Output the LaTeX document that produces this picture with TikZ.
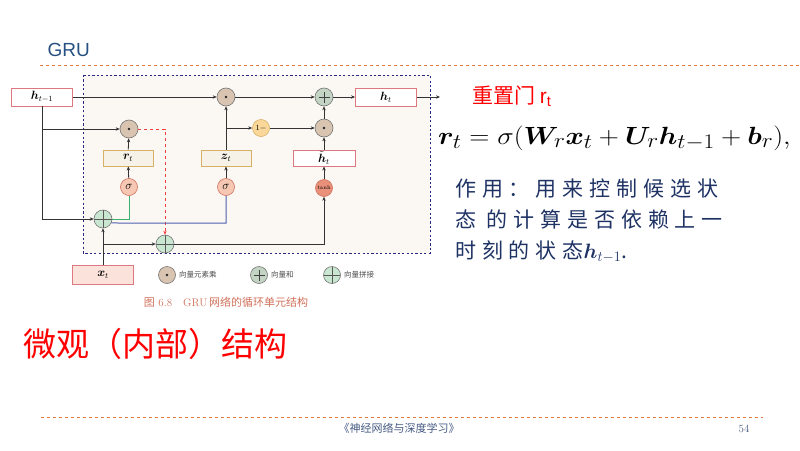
\documentclass[tikz,border=0pt]{standalone}
\usepackage{fontspec}
\usepackage{amsmath,bm}
\usepackage{tikz}
\usetikzlibrary{positioning,arrows.meta}
\newfontfamily\cjk{Noto Sans CJK SC}
\newfontfamily\cjkwide[LetterSpace=28]{Noto Sans CJK SC}
\newfontfamily\arial{Liberation Sans}
\definecolor{titleblue}{RGB}{38,80,130}
\definecolor{rulecol}{RGB}{228,120,60}
\definecolor{cellfill}{RGB}{251,247,243}
\definecolor{celldraw}{RGB}{40,40,130}
\definecolor{pinkline}{RGB}{222,120,128}
\definecolor{xfill}{RGB}{251,227,220}
\definecolor{goldline}{RGB}{214,176,100}
\definecolor{gatefill}{RGB}{246,242,232}
\definecolor{mulfill}{RGB}{216,196,176}
\definecolor{addfill}{RGB}{196,212,196}
\definecolor{catfill}{RGB}{200,230,208}
\definecolor{sigfill}{RGB}{246,200,180}
\definecolor{tanhfill}{RGB}{232,144,122}
\definecolor{onefill}{RGB}{251,216,154}
\definecolor{greenln}{RGB}{60,176,110}
\definecolor{blueln}{RGB}{80,96,176}
\definecolor{redln}{RGB}{245,60,60}
\definecolor{capcol}{RGB}{208,112,90}
\definecolor{bodyblue}{RGB}{30,50,100}
\definecolor{footcol}{RGB}{70,90,130}

\begin{document}
\begin{tikzpicture}[
  x=1pt, y=-1pt,
  >={Stealth[length=4pt,width=3.4pt]},
  line/.style={draw=black!80, line width=0.8pt},
  hbox/.style={draw=pinkline, fill=white, line width=0.9pt, inner sep=0pt,
               minimum width=61pt, minimum height=18pt, font=\fontsize{12}{12}\selectfont},
  gatebox/.style={draw=goldline, fill=gatefill, line width=0.9pt, inner sep=0pt,
                  minimum width=50pt, minimum height=16pt, font=\fontsize{12}{12}\selectfont},
  op/.style={circle, draw=black!55, line width=0.6pt, inner sep=0pt, minimum size=18pt},
  mul/.style={op, fill=mulfill,
              path picture={\fill[black!85] (path picture bounding box.center) circle (1.4pt);}},
  add/.style={op, fill=addfill,
              path picture={\draw[black!75, line width=0.8pt]
                ([xshift=-5.5pt]path picture bounding box.center) -- ([xshift=5.5pt]path picture bounding box.center)
                ([yshift=-5.5pt]path picture bounding box.center) -- ([yshift=5.5pt]path picture bounding box.center);}},
  cat/.style={op, fill=catfill,
              path picture={\draw[black!65, line width=0.7pt]
                (path picture bounding box.north) -- (path picture bounding box.south)
                (path picture bounding box.west) -- (path picture bounding box.east);}},
  sig/.style={op, fill=sigfill, draw=capcol, minimum size=17pt, font=\fontsize{12}{12}\selectfont},
  legend/.style={font=\cjk\fontsize{7.5}{7.5}\selectfont, text=black!70, inner sep=1pt}
]
  \useasboundingbox (0,0) rectangle (800,450);

  % slide frame
  \node[anchor=west, text=titleblue, font=\arial\fontsize{19}{19}\selectfont] (title) at (44,50) {GRU};
  \draw[rulecol, dashed, line width=0.8pt] (40,65) -- (800,65);
  \draw[rulecol, dashed, line width=0.8pt] (41,417) -- (763,417);
  \node[text=footcol, font=\cjk\fontsize{11}{11}\selectfont] (foot) at (399,428) {《神经网络与深度学习》};
  \node[text=footcol, font=\fontsize{11}{11}\selectfont] (page) at (744,429) {54};

  % cell
  \draw[celldraw, fill=cellfill, line width=1pt, dash pattern=on 2.2pt off 2.2pt] (83,75) rectangle (430,253);

  \node[hbox] (hprev) at (42,97) {$\bm{h}_{t-1}$};
  \node[mul] (m1) at (226,97) {};
  \node[add] (sum) at (324,97) {};
  \node[hbox] (ht) at (386,97) {$\bm{h}_t$};
  \coordinate (out) at (440,97);
  \node[mul] (mr) at (129,129) {};
  \node[op, fill=onefill, draw=goldline, minimum size=17pt, font=\fontsize{8}{8}\selectfont] (om) at (261,128) {1$-$};
  \node[mul] (m2) at (324,128) {};
  \node[gatebox] (rt) at (128,158) {$\bm{r}_t$};
  \node[gatebox] (zt) at (226,158) {$\bm{z}_t$};
  \node[hbox, minimum width=62pt, minimum height=16pt] (htil) at (324,158) {$\tilde{\bm{h}}_t$};
  \node[sig] (sr) at (129,187) {$\sigma$};
  \node[sig] (sz) at (226,187) {$\sigma$};
  \node[sig, fill=tanhfill, font=\fontsize{5.5}{5.5}\selectfont] (th) at (324,188) {tanh};
  \node[cat] (c1) at (103,219) {};
  \node[cat] (c2) at (165,244) {};
  \node[hbox, fill=xfill, minimum height=19pt] (xt) at (103,275) {$\bm{x}_t$};

  \draw[line, ->] (hprev) -- (m1);
  \draw[line, ->] (m1) -- (sum);
  \draw[line, ->] (sum) -- (ht);
  \draw[line, ->] (ht) -- (out);
  \draw[line, ->] (hprev.south) |- (c1);
  \draw[line, ->] (hprev.south |- mr) -- (mr);
  \draw[line, ->] (sr) -- (rt);
  \draw[line, ->] (rt) -- (mr);
  \draw[line, ->] (sz) -- (zt);
  \draw[line, ->] (zt) -- (m1);
  \draw[line, ->] (zt |- om) -- (om);
  \draw[line, ->] (om) -- (m2);
  \draw[line, ->] (m2) -- (sum);
  \draw[line, ->] (th) -- (htil);
  \draw[line, ->] (htil) -- (m2);
  \draw[redln, dashed, line width=0.8pt, ->] (mr) -| (c2);
  \draw[greenln, line width=1pt] (c1) -| (sr);
  \draw[blueln, line width=1pt] (c1.-25) -- (118,223) -| (sz);
  \draw[line, ->] (xt) -- (c1);
  \draw[line, ->] (xt.north |- c2) -- (c2);
  \draw[line, ->] (c2) -| (th);

  % legend
  \node[mul, minimum size=17pt] (lmul) at (167,275) {};
  \node[legend, right=2pt of lmul] (lmultxt) {向量元素乘};
  \node[add, minimum size=17pt] (lsum) at (259,275) {};
  \node[legend, right=2pt of lsum] (lsumtxt) {向量和};
  \node[cat, minimum size=17pt] (lcat) at (332,275) {};
  \node[legend, right=2pt of lcat] (lcattxt) {向量拼接};

  \node[text=capcol, font=\fontsize{11}{11}\selectfont] (cap) at (226,302)
    {{\cjk 图} 6.8\quad GRU\,{\cjk 网络的循环单元结构}};

  % notes
  \node[anchor=west, text=red, font=\cjk\fontsize{33}{33}\selectfont, inner sep=0pt] (micro) at (23,344)
    {微观（内部）结构};
  \node[anchor=west, text=red, font=\cjk\fontsize{21}{21}\selectfont, inner sep=0pt] (reset) at (472,96)
    {重置门 {\arial r\textsubscript{t}}};
  \node[anchor=west, inner sep=0pt, font=\fontsize{29}{29}\selectfont] (formula) at (438,138)
    {\scalebox{1.12}[1]{$\bm{r}_t = \sigma(\bm{W}_r\bm{x}_t + \bm{U}_r\bm{h}_{t-1} + \bm{b}_r),$}};
  \node[anchor=north west, align=left, inner sep=0pt, text=bodyblue,
        font=\cjkwide\fontsize{21}{31}\selectfont] (use) at (455,179)
    {作用：用来控制候选状\\态 的计算是否依赖上一\\时刻的状态$\bm{h}_{t-1}$.};
\end{tikzpicture}
\end{document}
